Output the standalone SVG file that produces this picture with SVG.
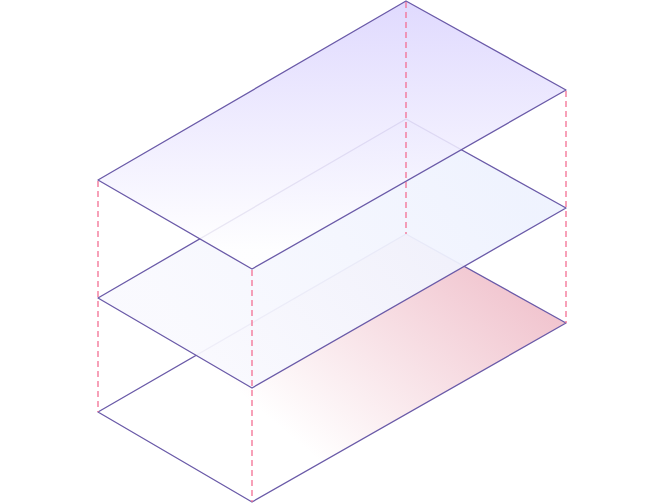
<svg xmlns="http://www.w3.org/2000/svg" width="664" height="504" viewBox="0 0 664 504">
<defs>
<linearGradient id="gTop" gradientUnits="userSpaceOnUse" x1="0" y1="0" x2="0" y2="250">
<stop offset="0" stop-color="#dbd4fe"/>
<stop offset="1" stop-color="#ffffff"/>
</linearGradient>
<linearGradient id="gMid" gradientUnits="userSpaceOnUse" x1="480" y1="150" x2="200" y2="360">
<stop offset="0" stop-color="#eef2fe"/>
<stop offset="1" stop-color="#f9f9fe"/>
</linearGradient>
<linearGradient id="gBot" gradientUnits="userSpaceOnUse" x1="500" y1="270" x2="330" y2="470">
<stop offset="0" stop-color="#f1c5cf"/>
<stop offset="1" stop-color="#ffffff"/>
</linearGradient>
<style>
.layer{stroke:#6a5aa8;stroke-width:1.3;stroke-linejoin:round}
.dash{stroke:#f36f93;stroke-width:1.3;stroke-dasharray:6 4;fill:none}
</style>
</defs>
<rect width="664" height="504" fill="#ffffff"/>
<g id="layer-bottom">
<polygon class="layer" points="406,234 566,323 252,502 98,412" fill="url(#gBot)"/>
</g>
<g id="layer-middle">
<polygon class="layer" points="406,119 566,208 252,388 98,298" fill="url(#gMid)" fill-opacity="0.93"/>
</g>
<g id="layer-top">
<polygon class="layer" points="406,1 566,90 252,269 98,180" fill="url(#gTop)" fill-opacity="0.87"/>
</g>
<g id="connectors">
<line class="dash" x1="406" y1="2" x2="406" y2="234"/>
<line class="dash" x1="566" y1="91" x2="566" y2="323"/>
<line class="dash" x1="98" y1="181" x2="98" y2="412"/>
<line class="dash" x1="252" y1="270" x2="252" y2="502"/>
</g>
</svg>
